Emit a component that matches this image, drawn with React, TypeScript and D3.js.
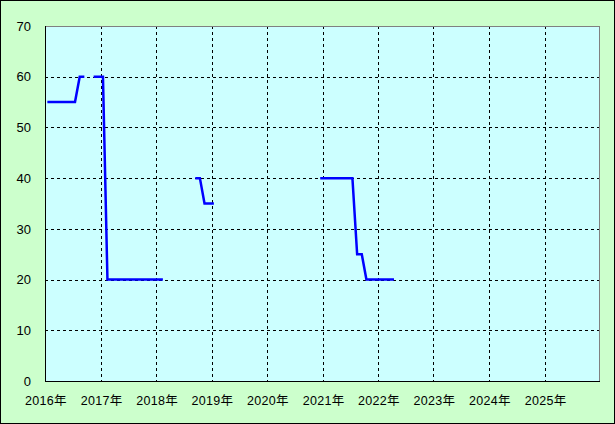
import { useEffect, useRef } from "react";
import * as d3 from "d3";

// monthly values from 2016-01, null = no data
const startMonth = "2016-01";
const values: (number | null)[] = [
  55, 55, 55, 55, 55, 55, 55, 60, 60, null, 60, 60,
  60, 20, 20, 20, 20, 20, 20, 20, 20, 20, 20, 20,
  20, 20, null, null, null, null, null, null, 40, 40, 35, 35,
  35, null, null, null, null, null, null, null, null, null, null, null,
  null, null, null, null, null, null, null, null, null, null, null, 40,
  40, 40, 40, 40, 40, 40, 40, 25, 25, 20, 20, 20,
  20, 20, 20, 20,
];
const yearTicks = [2016, 2017, 2018, 2019, 2020, 2021, 2022, 2023, 2024, 2025, 2026];
const yTicks = [0, 10, 20, 30, 40, 50, 60, 70];

export default function App() {
  const svgRef = useRef<SVGSVGElement>(null);
  const width = 615;
  const height = 424;

  useEffect(() => {
    if (!svgRef.current) return;
    const svg = d3.select(svgRef.current);
    svg.selectAll("*").remove();

    const margin = { top: 26, right: 15, bottom: 43, left: 45 };
    const x0 = margin.left;
    const x1 = width - margin.right;
    const y0 = height - margin.bottom;
    const y1 = margin.top;

    const x = d3
      .scaleTime()
      .domain([new Date(2016, 0, 1), new Date(2026, 0, 1)])
      .range([x0, x1]);
    const y = d3.scaleLinear().domain([0, 70]).range([y0, y1]);

    const base = d3.timeParse("%Y-%m")(startMonth)!;
    const pts = values.map((v, i) => {
      const m = d3.timeMonth.offset(base, i);
      const mid = new Date((m.getTime() + d3.timeMonth.offset(m, 1).getTime()) / 2);
      return { date: mid, value: v };
    });

    // outer background
    svg
      .append("rect")
      .attr("x", 0.5)
      .attr("y", 0.5)
      .attr("width", width - 1)
      .attr("height", height - 1)
      .attr("fill", "#ccffcc")
      .attr("stroke", "#000");

    svg
      .append("rect")
      .attr("x", x0)
      .attr("y", y1)
      .attr("width", x1 - x0)
      .attr("height", y0 - y1)
      .attr("fill", "#ccffff");

    const grid = svg.append("g").attr("shape-rendering", "crispEdges");
    grid
      .selectAll("line.gx")
      .data(yearTicks.slice(1, -1))
      .join("line")
      .attr("x1", (d) => Math.round(x(new Date(d, 0, 1))) + 0.5)
      .attr("x2", (d) => Math.round(x(new Date(d, 0, 1))) + 0.5)
      .attr("y1", y1)
      .attr("y2", y0)
      .attr("stroke", "#000")
      .attr("stroke-dasharray", "3,3");
    grid
      .selectAll("line.gy")
      .data(yTicks.slice(1, -1))
      .join("line")
      .attr("x1", x0)
      .attr("x2", x1)
      .attr("y1", (d) => Math.round(y(d)) + 0.5)
      .attr("y2", (d) => Math.round(y(d)) + 0.5)
      .attr("stroke", "#000")
      .attr("stroke-dasharray", "3,3");

    // gray top/right border
    grid
      .append("path")
      .attr("d", `M${x0},${y1 + 0.5}H${x1 - 0.5}V${y0}`)
      .attr("fill", "none")
      .attr("stroke", "#808080");
    // black axes
    grid
      .append("path")
      .attr("d", `M${x0 + 0.5},${y1}V${y0 + 0.5}H${x1}`)
      .attr("fill", "none")
      .attr("stroke", "#000");

    const line = d3
      .line<{ date: Date; value: number | null }>()
      .defined((d) => d.value != null)
      .x((d) => x(d.date))
      .y((d) => y(d.value as number));

    svg
      .append("path")
      .datum(pts)
      .attr("d", line)
      .attr("fill", "none")
      .attr("stroke", "#0000ff")
      .attr("stroke-width", 2.5);

    const font = "'Liberation Sans', 'Noto Sans CJK JP', sans-serif";
    svg
      .selectAll("text.yl")
      .data(yTicks)
      .join("text")
      .attr("x", 31)
      .attr("y", (d) => y(d))
      .attr("dy", "0.36em")
      .attr("text-anchor", "end")
      .attr("font-family", font)
      .attr("font-size", 13)
      .attr("fill", "#000")
      .text((d) => d);

    svg
      .selectAll("text.xl")
      .data(yearTicks.slice(0, -1))
      .join("text")
      .attr("x", (d) => x(new Date(d, 0, 1)) + 1)
      .attr("y", 405)
      .attr("text-anchor", "middle")
      .attr("font-family", font)
      .attr("font-size", 12.5)
      .attr("letter-spacing", 0.3)
      .attr("fill", "#000")
      .text((d) => `${d}年`);
  }, []);

  return (
    <svg
      ref={svgRef}
      width={width}
      height={height}
      style={{ position: "absolute", left: 0, top: 0 }}
    />
  );
}
